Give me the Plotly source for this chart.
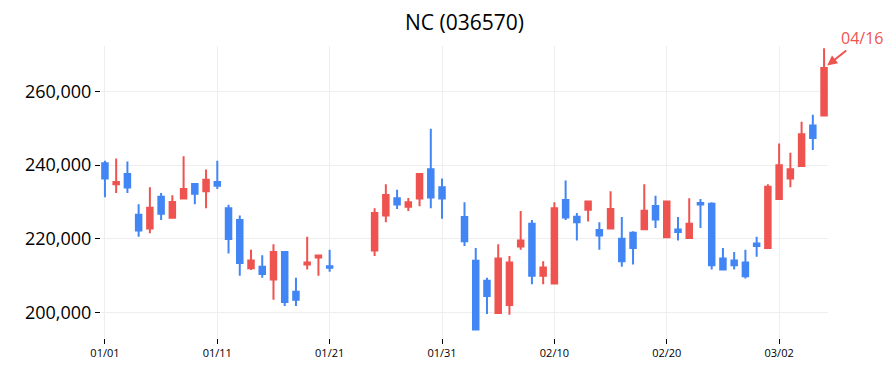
import plotly.graph_objects as go

dates = [
    "2023-01-01", "2023-01-02", "2023-01-03", "2023-01-04", "2023-01-05", "2023-01-06",
    "2023-01-07", "2023-01-08", "2023-01-09", "2023-01-10", "2023-01-11", "2023-01-12",
    "2023-01-13", "2023-01-14", "2023-01-15", "2023-01-16", "2023-01-17", "2023-01-18",
    "2023-01-19", "2023-01-20", "2023-01-21",
    "2023-01-25", "2023-01-26", "2023-01-27", "2023-01-28", "2023-01-29", "2023-01-30",
    "2023-01-31",
    "2023-02-02", "2023-02-03", "2023-02-04", "2023-02-05", "2023-02-06", "2023-02-07",
    "2023-02-08", "2023-02-09", "2023-02-10", "2023-02-11", "2023-02-12", "2023-02-13",
    "2023-02-14", "2023-02-15", "2023-02-16", "2023-02-17", "2023-02-18", "2023-02-19",
    "2023-02-20", "2023-02-21", "2023-02-22", "2023-02-23", "2023-02-24", "2023-02-25",
    "2023-02-26", "2023-02-27", "2023-02-28", "2023-03-01", "2023-03-02", "2023-03-03",
    "2023-03-04", "2023-03-05", "2023-03-06",
]

opens = [
    240500, 234800, 237600, 226500, 222800, 231400, 225700, 230900, 234900, 232900,
    235400, 228300, 225100, 212000, 212400, 208900, 216400, 205600, 213000, 214900,
    212500,
    216800, 226300, 231000, 228700, 230900, 238900, 234000,
    225900, 214000, 208600, 199800, 202000, 217900, 224100, 209900, 207800, 230500,
    226000, 227900, 222400, 222800, 220000, 221600, 222600, 228900, 220400, 222500,
    220200, 229700, 229500, 214600, 214100, 213500, 218700, 217500, 230800, 236400,
    239800, 250800, 253500,
]

highs = [
    241200, 241800, 241000, 229400, 234000, 232400, 231800, 242400, 235100, 238800,
    241200, 229200, 226300, 217000, 215500, 218500, 216600, 209400, 220500, 215400,
    217000,
    228300, 234800, 233300, 231100, 237600, 249900, 236400,
    229900, 217500, 209400, 218500, 215300, 227500, 225100, 213900, 229900, 235800,
    227000, 230400, 224500, 232900, 225900, 222000, 234800, 231700, 230400, 225900,
    231000, 230800, 229900, 217500, 216400, 217000, 220500, 234800, 245900, 243400,
    251800, 253700, 271800,
]

lows = [
    231300, 232400, 232400, 220500, 221500, 225100, 225400, 230700, 229400, 228300,
    233500, 216000, 209900, 211500, 209400, 203400, 201700, 201700, 211600, 209900,
    211000,
    215300, 224500, 228100, 227500, 228800, 228300, 225400,
    218000, 195100, 199500, 199800, 199300, 217000, 207600, 207600, 207600, 225100,
    219500, 224700, 217000, 222800, 212400, 213000, 222400, 222900, 220200, 219500,
    220000, 222900, 211600, 211600, 211600, 209200, 215100, 217500, 230800, 234000,
    239800, 244100, 253500,
]

closes = [
    236400, 235400, 233900, 222200, 228400, 226800, 230000, 233500, 232200, 236000,
    234400, 219900, 213400, 214100, 210400, 216400, 202800, 203400, 213500, 215400,
    212100,
    227000, 231900, 229300, 229900, 237600, 231200, 230900,
    219300, 195300, 204400, 214600, 213500, 219500, 209900, 212200, 228300, 225800,
    224500, 230100, 220900, 228100, 213900, 217500, 227600, 225200, 230100, 221800,
    224100, 229300, 212800, 211600, 212800, 209800, 218000, 234100, 240000, 238900,
    248400, 247400, 266400,
]

title_text = "NC (036570)"
marker_label = "04/16"

RED = "#EF5350"
BLUE = "#4285F4"
FONT = "Open Sans"

fig = go.Figure(
    go.Candlestick(
        x=dates,
        open=opens,
        high=highs,
        low=lows,
        close=closes,
        increasing=dict(line=dict(color=RED, width=2), fillcolor=RED),
        decreasing=dict(line=dict(color=BLUE, width=2), fillcolor=BLUE),
        showlegend=False,
    )
)

fig.add_annotation(
    x=dates[-1],
    y=closes[-1],
    text=marker_label,
    showarrow=True,
    arrowhead=2,
    arrowsize=1,
    arrowwidth=2,
    arrowcolor=RED,
    standoff=4,
    ax=38,
    ay=-30,
    font=dict(family=FONT, size=16, color=RED),
)

fig.update_layout(
    width=895,
    height=372,
    margin=dict(l=101, r=67, t=46, b=32),
    paper_bgcolor="white",
    plot_bgcolor="white",
    font=dict(family=FONT, color="black"),
    title=dict(
        text=title_text,
        x=0.5,
        xref="paper",
        xanchor="center",
        y=0.94,
        yanchor="middle",
        font=dict(family=FONT, size=21, color="black"),
    ),
    xaxis=dict(
        type="date",
        range=["2022-12-31 15:36", "2023-03-06 08:24"],
        rangeslider=dict(visible=False),
        tick0="2023-01-01",
        dtick=10 * 86400000,
        tickformat="%m/%d",
        ticks="outside",
        ticklen=5,
        tickcolor="black",
        showgrid=True,
        gridcolor="#EEEEEE",
        gridwidth=1,
        showline=False,
        zeroline=False,
        tickfont=dict(family=FONT, size=11, color="black"),
    ),
    yaxis=dict(
        range=[193000, 272400],
        dtick=20000,
        tickformat=",",
        ticks="outside",
        ticklen=5,
        tickcolor="black",
        showgrid=True,
        gridcolor="#EEEEEE",
        gridwidth=1,
        showline=False,
        zeroline=False,
        tickfont=dict(family=FONT, size=18, color="black"),
    ),
)

fig.write_html("out.html")
